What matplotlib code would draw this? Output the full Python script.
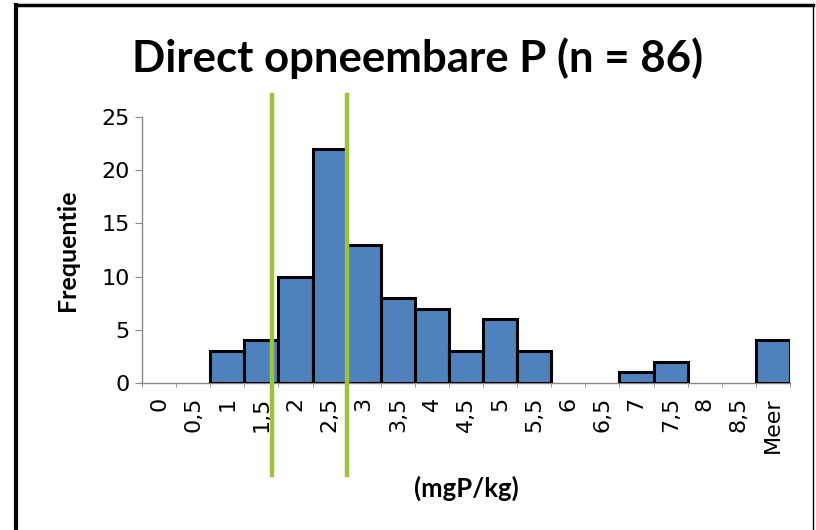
import numpy as np
import matplotlib.pyplot as plt
from matplotlib.lines import Line2D

# histogram data (bins in mgP/kg)
categories = ['0', '0,5', '1', '1,5', '2', '2,5', '3', '3,5', '4', '4,5',
              '5', '5,5', '6', '6,5', '7', '7,5', '8', '8,5', 'Meer']
counts = [0, 0, 3, 4, 10, 22, 13, 8, 7, 3, 6, 3, 0, 0, 1, 2, 0, 0, 4]
y_ticks = [0, 5, 10, 15, 20, 25]
# limit markers, in bar-index coordinates
limit_lines = [3.31, 5.51]

title = 'Direct opneembare P (n = 86)'
xlabel = '(mgP/kg)'
ylabel = 'Frequentie'

W, H = 816, 530
fig = plt.figure(figsize=(W / 100, H / 100), dpi=100)
ax = fig.add_axes([142 / W, 1 - 383 / H, (790 - 142) / W, (383 - 117) / H])

x = np.arange(len(categories))
lw = [2.2 if c > 0 else 0 for c in counts]
ax.bar(x, counts, width=1.0, color='#4F81BD', edgecolor='black',
       linewidth=lw, zorder=3)

tick_font = dict(fontsize=16, family='DejaVu Sans')
ax.set_xlim(-0.5, len(categories) - 0.5)
ax.set_ylim(0, 25)
ax.set_yticks(y_ticks)
ax.set_yticklabels([str(v) for v in y_ticks], **tick_font)
ax.set_xticks(x)
ax.set_xticklabels(categories, rotation=90, **tick_font)
ax.tick_params(axis='x', length=0, pad=10)
ax.tick_params(axis='y', length=5, color='#888888', pad=4)
ax.set_xticks(np.arange(-0.5, len(categories)), minor=True)
ax.tick_params(axis='x', which='minor', length=3, color='#888888', direction='out')

for s in ['top', 'right']:
    ax.spines[s].set_visible(False)
for s in ['left', 'bottom']:
    ax.spines[s].set_color('#888888')
    ax.spines[s].set_linewidth(1.0)

ax.set_ylabel(ylabel, fontsize=18, fontweight='bold', family='Lato', va='center')
ax.set_xlabel(xlabel, fontsize=18.5, fontweight='bold', family='Lato', va='center')
ax.yaxis.set_label_coords((67 - 142) / 648, 0.5)
ax.xaxis.set_label_coords(0.5, (383 - 488) / 266)

# green limit lines, running outside the axes
for xv in limit_lines:
    ax.axvline(xv, ymin=-0.346, ymax=1.083, color='#9DC33A', linewidth=3.2,
               clip_on=False, zorder=5)

fig.text(418 / W, 1 - 58 / H, title, ha='center', va='center',
         fontsize=31.5, fontweight='bold', family='Lato')

# chart frame (left, top, right edges)
fig.add_artist(Line2D([16 / W, 16 / W], [0, 1 - 5 / H], transform=fig.transFigure,
                      color='black', linewidth=3))
fig.add_artist(Line2D([16 / W, 813 / W], [1 - 5 / H, 1 - 5 / H], transform=fig.transFigure,
                      color='black', linewidth=2.5))
fig.add_artist(Line2D([813 / W, 813 / W], [0, 1 - 5 / H], transform=fig.transFigure,
                      color='black', linewidth=1))

fig.savefig('out.png', dpi=100)
